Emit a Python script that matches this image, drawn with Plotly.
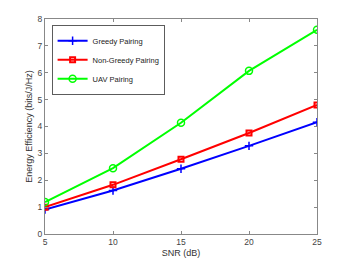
import plotly.graph_objects as go

snr = [5, 10, 15, 20, 25]
greedy = [0.91, 1.62, 2.43, 3.28, 4.16]
non_greedy = [1.0, 1.83, 2.78, 3.76, 4.80]
uav = [1.19, 2.45, 4.14, 6.07, 7.60]
x_ticks = [5, 10, 15, 20, 25]
y_ticks = [0, 1, 2, 3, 4, 5, 6, 7, 8]

fig = go.Figure()
fig.add_trace(go.Scatter(x=snr, y=greedy, name="Greedy Pairing", mode="lines+markers",
                         line=dict(color="#0000ff", width=2),
                         marker=dict(symbol="cross-thin", size=6, line=dict(color="#0000ff", width=1.5))))
fig.add_trace(go.Scatter(x=snr, y=non_greedy, name="Non-Greedy Pairing", mode="lines+markers",
                         line=dict(color="#ff0000", width=2),
                         marker=dict(symbol="square-open", size=5, line=dict(color="#ff0000", width=2))))
fig.add_trace(go.Scatter(x=snr, y=uav, name="UAV Pairing", mode="lines+markers",
                         line=dict(color="#00ff00", width=2),
                         marker=dict(symbol="circle-open", size=7, line=dict(color="#00ff00", width=1.5))))

axis_common = dict(showgrid=False, zeroline=False, showline=True, linecolor="#888888", linewidth=1,
                   mirror="allticks", ticks="inside", ticklen=3, tickcolor="#888888",
                   tickfont=dict(size=8.5, color="#444444"), automargin=False)
fig.update_xaxes(range=[5, 25], tickvals=x_ticks,
                 title=dict(text="SNR (dB)", font=dict(size=9, color="#333333"), standoff=3),
                 **axis_common)
fig.update_yaxes(range=[0, 8], tickvals=y_ticks,
                 title=dict(text="Energy Efficiency (bits/J/Hz)", font=dict(size=9, color="#333333"), standoff=3),
                 **axis_common)

fig.update_layout(width=342, height=255, margin=dict(l=37, r=33, t=11, b=29),
                  paper_bgcolor="white", plot_bgcolor="white",
                  font=dict(family="Liberation Sans, Arial, sans-serif", color="#333333"),
                  legend=dict(x=0.025, y=0.97, xanchor="left", yanchor="top",
                              bordercolor="#333333", borderwidth=0.8, bgcolor="white",
                              font=dict(size=7.5, color="#222222"), tracegroupgap=0,
                              itemwidth=30, entrywidth=0))

fig.write_html("out.html")
